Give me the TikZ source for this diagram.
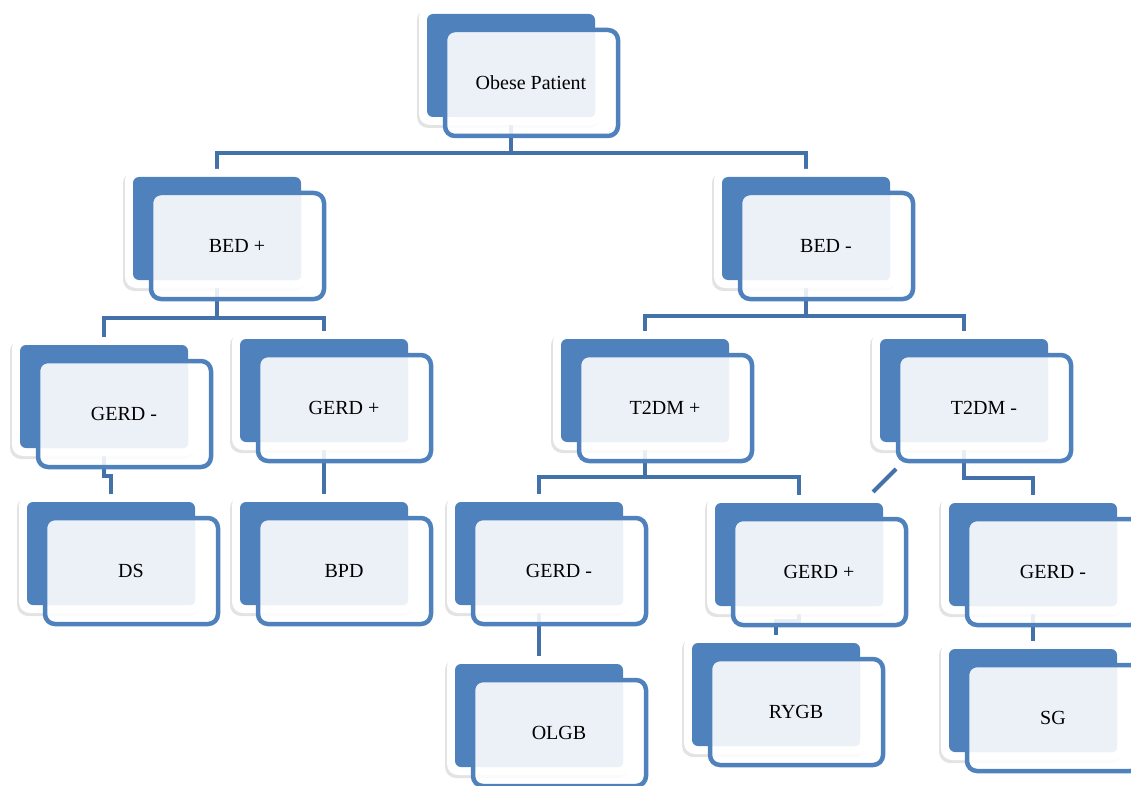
\documentclass[tikz,border=0pt]{standalone}
\usepackage{fontspec}
\setmainfont{Liberation Serif}
\usetikzlibrary{shadows,calc}
\pgfdeclarelayer{background}
\pgfsetlayers{background,main}
\definecolor{boxblue}{HTML}{4F81BD}
\definecolor{connblue}{HTML}{4371AA}
\definecolor{lightfill}{HTML}{ECF1F8}
\tikzset{
  glow/.style={rectangle, fill=white, rounded corners=11pt, inner sep=0pt, outer sep=0pt,
    minimum width=184pt, minimum height=119pt,
    drop shadow={opacity=0.22, shadow xshift=-2pt, shadow yshift=-3pt}},
  back/.style={rectangle, fill=boxblue, rounded corners=6pt, inner sep=0pt, outer sep=0pt,
    minimum width=168pt, minimum height=103pt, anchor=north west},
  outline/.style={rectangle, draw=boxblue, line width=4.5pt, rounded corners=10pt, inner sep=0pt,
    outer sep=0pt, minimum width=173pt, minimum height=106pt, anchor=north west},
  veil/.style={rectangle, fill=white, fill opacity=0.88, rounded corners=10pt, inner sep=0pt,
    outer sep=0pt, minimum width=173pt, minimum height=106pt, anchor=north west},
  label/.style={font=\fontsize{20}{23}\selectfont, text=black, inner sep=0pt},
  conn/.style={draw=connblue, line width=4pt}
}
\newcommand\tbox[4]{%
  \node[back] (#1-b) at (#2,#3) {};
  \node[glow] (#1-g) at (#1-b.center) {};
  \node[back] at (#2,#3) {};
  \node[veil] (#1) at (#2+18,#3+16) {};
  \fill[lightfill, rounded corners=4pt] ([shift={(2,2)}]#1.north west) rectangle (#1-b.south east);
  \node[outline] at (#2+18,#3+16) {};
  \node[label] (#1-t) at (#2+104,#3+69) {#4};
}
\begin{document}
\begin{tikzpicture}[x=1pt,y=-1pt]
\useasboundingbox (0,0) rectangle (1131,786);
\tbox{obese}{427}{14}{Obese Patient}
\tbox{bedp}{133}{177}{BED +}
\tbox{bedm}{722}{177}{BED -}
\tbox{gerda}{20}{345}{GERD -}
\tbox{gerdb}{240}{339}{GERD +}
\tbox{tp}{561}{339}{T2DM +}
\tbox{tm}{880}{339}{T2DM -}
\tbox{ds}{27}{502}{DS}
\tbox{bpd}{240}{502}{BPD}
\tbox{gerdc}{455}{502}{GERD -}
\tbox{gerdd}{715}{503}{GERD +}
\tbox{gerde}{949}{503}{GERD -}
\tbox{olgb}{455}{664}{OLGB}
\tbox{rygb}{692}{643}{RYGB}
\tbox{sg}{949}{649}{SG}
\begin{pgfonlayer}{background}
  \draw[conn] (obese-b.south) -- (obese-b.center |- obese.south) -- ++(0,17) coordinate (j1);
  \draw[conn] (bedp-b.north) |- (j1) -| (bedm-b.north);
  \draw[conn] (bedp-b.south) -- (bedp-b.center |- bedp.south) -- ++(0,19) coordinate (j2);
  \draw[conn] (gerda-b.north) |- (j2) -| (gerdb-b.north);
  \draw[conn] (bedm-b.south) -- (bedm-b.center |- bedm.south) -- ++(0,17) coordinate (j3);
  \draw[conn] (tp-b.north) |- (j3) -| (tm-b.north);
  \draw[conn] (gerda-b.south) -- (gerda-b.center |- gerda.south) -- ++(0,9) -| (ds-b.north);
  \draw[conn] (gerdb-b.south) -- (gerdb-b.center |- bpd-b.north);
  \draw[conn] (tp-b.south) -- (tp-b.center |- tp.south) -- ++(0,16) coordinate (j4);
  \draw[conn] (gerdc-b.north) |- (j4) -| (gerdd-b.north);
  \draw[conn] (tm-b.south) -- (tm-b.center |- tm.south) -- ++(0,17) -| (gerde-b.north);
  \draw[conn] (gerdc-b.south) -- (olgb-b.north);
  \draw[conn] (gerdd-b.south) -- ++(0,15) -| (rygb-b.north);
  \draw[conn] (gerde-b.south) -- (sg-b.north);
  \draw[conn] ([shift={(-2,8)}]tm.south west) -- ([shift={(-10,-11)}]gerdd-b.north east);
\end{pgfonlayer}
\end{tikzpicture}
\end{document}
